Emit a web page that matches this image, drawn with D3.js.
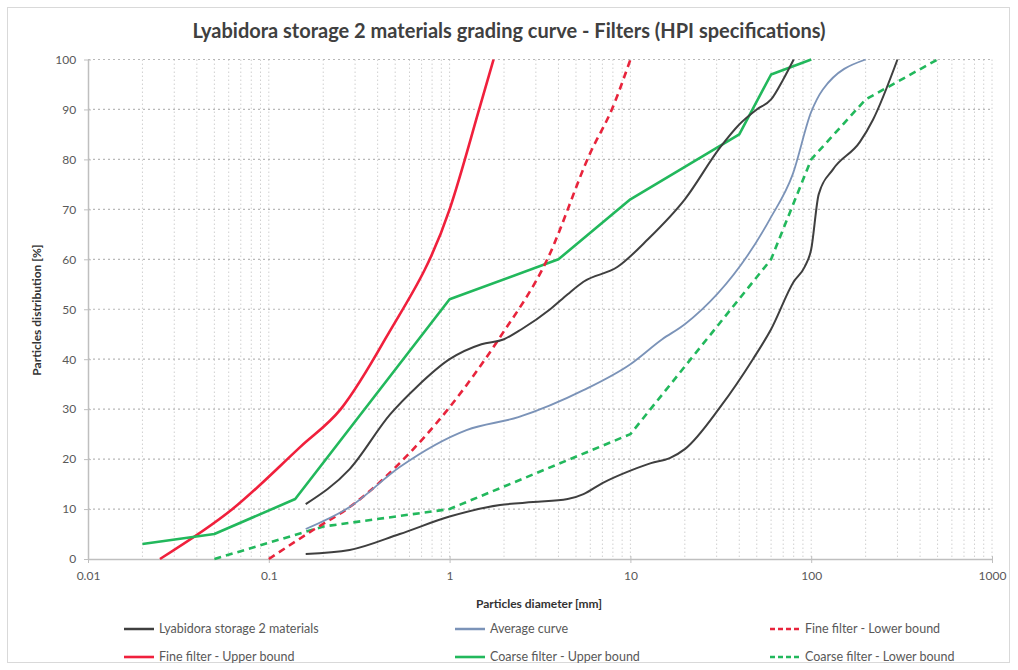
<!DOCTYPE html>
<html><head><meta charset="utf-8">
<script src="https://cdn.jsdelivr.net/npm/d3@7/dist/d3.min.js"></script>
<style>html,body{margin:0;padding:0;background:#fff;}svg{display:block;font-family:Lato,"Open Sans",sans-serif;}</style>
</head><body>
<svg id="c" width="1018" height="670"></svg>
<script>
// ---- data (diameter mm, % passing) ----
const lyabidoraUpper = [[0.16,11],[0.28,18],[0.47,29],[0.66,34.5],[1,40],[1.5,43],[2,44],[2.5,46],[3.6,50],[4.5,53],[5.5,55.5],[8.5,58.5],[12.5,64],[20,72],[31.5,82.5],[40,87],[50,90],[60,92],[70,96],[80,100]];
const lyabidoraLower = [[0.16,1],[0.28,1.8],[0.53,5],[1,8.5],[1.9,10.8],[2.9,11.4],[4.5,12],[5.5,13],[7,15.2],[10,17.7],[13,19.2],[16.5,20.2],[20,22],[31.5,30.5],[47.6,40],[60,46],[80,55.5],[92,58.5],[100,62],[110,73],[132,78],[186,83.5],[220,88],[300,100]];
const averageCurve = [[0.16,6],[0.28,10.4],[0.53,18.4],[1.24,25.8],[2.4,28.4],[5.5,33.8],[10,39],[15,44],[20,47],[59,68],[79,77],[100,89.5],[116,94],[200,100]];
const fineLower = [[0.1,0],[0.176,5.8],[0.28,10.4],[0.53,19.2],[1,30.4],[1.9,44.4],[3.46,59.9],[6,81.3],[8,90.5],[10,100]];
const fineUpper = [[0.025,0],[0.063,10],[0.15,22.5],[0.25,30],[0.44,44],[1,70],[1.47,90.5],[1.75,100]];
const coarseUpper = [[0.02,3],[0.05,5],[0.14,12],[1,52],[4,60],[10,72],[40,85],[60,97],[100,100]];
const coarseLower = [[0.05,0],[0.2,6.5],[1,10],[10,25],[60,60],[100,80],[200,92],[500,100]];
const xTicks = [0.01,0.1,1,10,100,1000];
const xTickLabels = ["0.01","0.1","1","10","100","1000"];
const yTicks = [0,10,20,30,40,50,60,70,80,90,100];

const svg = d3.select("#c");
const L=88,R=992,T=59.5,B=559;
const x = d3.scaleLog().domain([0.01,1000]).range([L,R]);
const y = d3.scaleLinear().domain([0,100]).range([B,T]);

// frame
svg.append("rect").attr("x",7.5).attr("y",7.5).attr("width",1002).attr("height",655)
  .attr("fill","none").attr("stroke","#d9d9d9");

// title
svg.append("text").attr("x",509).attr("y",38).attr("text-anchor","middle")
  .attr("font-weight","bold").attr("font-size",20).attr("fill","#404040")
  .text("Lyabidora storage 2 materials grading curve - Filters (HPI specifications)");

// vertical minor grid
const minor=[];
for(let e=-2;e<3;e++){for(let m=1;m<=9;m++){minor.push(m*Math.pow(10,e));}}
minor.push(1000);
svg.append("g").selectAll("line").data(minor.filter(v=>v>0.01)).join("line")
  .attr("x1",d=>x(d)).attr("x2",d=>x(d)).attr("y1",T).attr("y2",B)
  .attr("stroke","#d0d0d0").attr("stroke-width",1).attr("stroke-dasharray","1.5,2.5");
// horizontal grid
svg.append("g").selectAll("line").data(yTicks.filter(v=>v>0)).join("line")
  .attr("x1",L).attr("x2",R).attr("y1",d=>y(d)).attr("y2",d=>y(d))
  .attr("stroke","#b8b8b8").attr("stroke-width",1.2).attr("stroke-dasharray","2,3");

// axes
const xAxis = d3.axisBottom(x).tickValues(xTicks).tickFormat((d,i)=>xTickLabels[i]).tickSize(4).tickSizeOuter(0);
const gx = svg.append("g").attr("transform",`translate(0,${B})`).call(xAxis);
gx.select(".domain").attr("stroke","#bfbfbf").attr("stroke-width",1.5);
gx.selectAll(".tick line").attr("stroke","#bfbfbf").attr("y1",-3);
gx.selectAll(".tick text").attr("font-size",12).attr("fill","#595959").attr("dy","1.2em").attr("font-family","Lato,sans-serif");
const yAxis = d3.axisLeft(y).tickValues(yTicks).tickSize(4).tickSizeOuter(0);
const gy = svg.append("g").attr("transform",`translate(${L},0)`).call(yAxis);
gy.select(".domain").attr("stroke","#bfbfbf").attr("stroke-width",1.5);
gy.selectAll(".tick line").attr("stroke","#bfbfbf").attr("x1",3);
gy.selectAll(".tick text").attr("font-size",12).attr("fill","#595959").attr("dx","-0.4em").attr("font-family","Lato,sans-serif");

// axis titles
svg.append("text").attr("x",539).attr("y",608).attr("text-anchor","middle")
  .attr("font-weight","bold").attr("font-size",12).attr("fill","#333").text("Particles diameter [mm]");
svg.append("text").attr("transform","translate(41,310) rotate(-90)").attr("text-anchor","middle")
  .attr("font-weight","bold").attr("font-size",12).attr("fill","#333").text("Particles distribution [%]");

// series
const smooth = d3.line().x(d=>x(d[0])).y(d=>y(d[1])).curve(d3.curveMonotoneX);
const straight = d3.line().x(d=>x(d[0])).y(d=>y(d[1]));
const series = [
  {data:fineUpper, color:"#f0203c", w:2.6, dash:null, gen:smooth},
  {data:coarseUpper, color:"#22b85c", w:2.6, dash:null, gen:straight},
  {data:coarseLower, color:"#22b85c", w:2.6, dash:"7,5", gen:straight},
  {data:fineLower, color:"#e8243c", w:2.6, dash:"7,5", gen:smooth},
  {data:averageCurve, color:"#7b93b8", w:1.8, dash:null, gen:smooth},
  {data:lyabidoraUpper, color:"#3f3f3f", w:2, dash:null, gen:smooth},
  {data:lyabidoraLower, color:"#3f3f3f", w:2, dash:null, gen:smooth}
];
series.forEach(s=>{
  svg.append("path").attr("d",s.gen(s.data)).attr("fill","none")
    .attr("stroke",s.color).attr("stroke-width",s.w).attr("stroke-dasharray",s.dash)
    .attr("stroke-linejoin","round");
});

// legend
const legend = [
  {name:"Lyabidora storage 2 materials", color:"#3f3f3f", dash:null, w:2.5, col:0,row:0},
  {name:"Average curve", color:"#7b93b8", dash:null, w:2.5, col:1,row:0},
  {name:"Fine filter - Lower bound", color:"#e8243c", dash:"5,3", w:2.6, col:2,row:0},
  {name:"Fine filter - Upper bound", color:"#f0203c", dash:null, w:2.6, col:0,row:1},
  {name:"Coarse filter - Upper bound", color:"#22b85c", dash:null, w:2.6, col:1,row:1},
  {name:"Coarse filter - Lower bound", color:"#22b85c", dash:"5,3", w:2.6, col:2,row:1}
];
const colX=[124,455,770], rowY=[629,657];
const lg = svg.append("g").selectAll("g").data(legend).join("g")
  .attr("transform",d=>`translate(${colX[d.col]},${rowY[d.row]})`);
lg.append("line").attr("x1",0).attr("x2",30).attr("y1",0).attr("y2",0)
  .attr("stroke",d=>d.color).attr("stroke-width",d=>d.w).attr("stroke-dasharray",d=>d.dash);
lg.append("text").attr("x",35).attr("y",4).attr("font-size",12.5).attr("fill","#595959").text(d=>d.name);
</script>
</body></html>
